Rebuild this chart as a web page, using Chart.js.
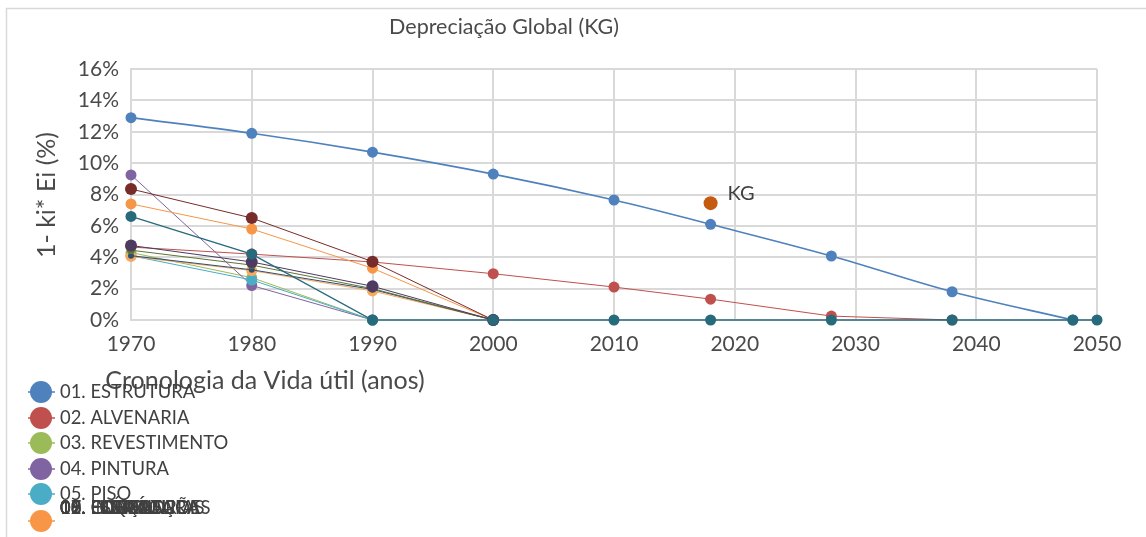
<!DOCTYPE html>
<html>
<head>
<meta charset="utf-8">
<script src="https://cdn.jsdelivr.net/npm/chart.js@4"></script>
<style>
  html, body { margin: 0; padding: 0; background: #fff; }
  canvas { display: block; }
</style>
</head>
<body>
<canvas id="c" width="1146" height="537"></canvas>
<script>
// Anos de referência e valores de 1 - ki*Ei (%) por componente
const anos = [1970, 1980, 1990, 2000, 2010, 2018, 2028, 2038, 2048, 2050];

const estrutura    = [12.9, 11.9, 10.7, 9.3, 7.65, 6.1, 4.08, 1.8, 0];
const alvenaria    = [4.65, 4.2, 3.7, 2.95, 2.1, 1.33, 0.25, 0];
const revestimento = [4.3, 2.7, 0];
const pintura      = [9.25, 2.2, 0];
const piso         = [4.1, 2.55, 0];
const esquadrias   = [7.4, 5.8, 3.3, 0];
const cobertura    = [4.05, 3.15, 1.85, 0];
const eletrica     = [4.1, 3.2, 1.95, 0];
const instalacoes  = [8.35, 6.5, 3.72, 0];
const hidraulica   = [4.45, 3.5, 2.0, 0];
const loucas       = [4.75, 3.7, 2.15, 0];
const forro        = [6.6, 4.2, 0, 0, 0, 0, 0, 0, 0, 0];

// Depreciação global
const kgAno = 2018;
const kgValor = 7.45;

const yTicks = [0, 2, 4, 6, 8, 10, 12, 14, 16];
const xTicks = [1970, 1980, 1990, 2000, 2010, 2020, 2030, 2040, 2050];

const series = [
  { nome: '01. ESTRUTURA',    valores: estrutura,    cor: '#4F81BD', w: 1.6, r: 5.5 },
  { nome: '02. ALVENARIA',    valores: alvenaria,    cor: '#C0504D', w: 1,   r: 5.5 },
  { nome: '03. REVESTIMENTO', valores: revestimento, cor: '#9BBB59', w: 1,   r: 5.5 },
  { nome: '04. PINTURA',      valores: pintura,      cor: '#8064A2', w: 1,   r: 5.5 },
  { nome: '05. PISO',         valores: piso,         cor: '#4BACC6', w: 1,   r: 5.5 },
  { nome: '06. ESQUADRIAS',   valores: esquadrias,   cor: '#F79646', w: 1,   r: 5.5 },
  { nome: '07. COBERTURA',    valores: cobertura,    cor: '#F9A85E', w: 1,   r: 5.5 },
  { nome: '08. ELÉTRICA',     valores: eletrica,     cor: '#2C4D75', w: 1,   r: 3 },
  { nome: '09. INSTALAÇÕES',  valores: instalacoes,  cor: '#772C2A', w: 1,   r: 6 },
  { nome: '10. HIDRÁULICA',   valores: hidraulica,   cor: '#5F7530', w: 1,   r: 4 },
  { nome: '11. LOUÇAS',       valores: loucas,       cor: '#4D3B62', w: 1,   r: 6 },
  { nome: '12. FORRO',        valores: forro,        cor: '#276A7C', w: 1.3, r: 5.5 }
];

const FONT = 'Lato, "Open Sans", sans-serif';
const TXT = '#4A4A4A';

const datasets = series.map((s, i) => ({
  label: s.nome,
  data: s.valores.map((v, k) => ({ x: anos[k], y: v })),
  borderColor: s.cor,
  backgroundColor: s.cor,
  borderWidth: s.w,
  pointRadius: s.r,
  pointBorderWidth: 0,
  pointBackgroundColor: s.cor,
  tension: i === 0 ? 0.35 : 0,
  clip: false,
  order: -i
}));

datasets.push({
  label: 'KG',
  data: [{ x: kgAno, y: kgValor }],
  showLine: false,
  pointRadius: 7,
  pointBorderWidth: 0,
  pointBackgroundColor: '#C55A11',
  backgroundColor: '#C55A11',
  borderColor: '#C55A11',
  clip: false,
  order: -20
});

const kgIndex = datasets.length - 1;

const decoracao = {
  id: 'decoracao',
  beforeDraw(chart) {
    const ctx = chart.ctx;
    ctx.save();
    ctx.fillStyle = '#fff';
    ctx.fillRect(0, 0, chart.width, chart.height);
    ctx.strokeStyle = '#D9D9D9';
    ctx.lineWidth = 1.5;
    ctx.strokeRect(6.5, 8.5, chart.width + 20, chart.height + 20);
    ctx.restore();
  },
  afterDraw(chart) {
    const ctx = chart.ctx;
    ctx.save();
    ctx.fillStyle = TXT;
    ctx.textBaseline = 'middle';

    // Título
    ctx.font = '21.5px ' + FONT;
    ctx.textAlign = 'center';
    ctx.fillText('Depreciação Global (KG)', 504, 27);

    // Título do eixo Y
    ctx.save();
    ctx.translate(47, 195);
    ctx.rotate(-Math.PI / 2);
    ctx.font = '25px ' + FONT;
    ctx.fillText('1- ki* Ei (%)', 0, 0);
    ctx.restore();

    // Título do eixo X
    ctx.font = '25px ' + FONT;
    ctx.fillText('Cronologia da Vida útil (anos)', 265, 381);

    // Rótulo do ponto KG
    const p = chart.getDatasetMeta(kgIndex).data[0];
    ctx.fillStyle = '#404040';
    ctx.font = '20px ' + FONT;
    ctx.textAlign = 'left';
    ctx.fillText('KG', p.x + 17, p.y - 10);

    // Legenda
    const linhas = [392, 418, 443, 469, 494];
    ctx.font = '18.4px ' + FONT;
    series.forEach((s, i) => {
      const y = i < 5 ? linhas[i] : 508;
      if (i <= 5) {
        const my = i < 5 ? y : 521;
        ctx.strokeStyle = s.cor;
        ctx.lineWidth = 1.5;
        ctx.beginPath();
        ctx.moveTo(28, my);
        ctx.lineTo(55, my);
        ctx.stroke();
        ctx.fillStyle = s.cor;
        ctx.beginPath();
        ctx.arc(41, my, 11, 0, Math.PI * 2);
        ctx.fill();
      }
      ctx.fillStyle = '#404040';
      ctx.fillText(s.nome, 60, y);
    });
    ctx.restore();
  }
};

new Chart(document.getElementById('c'), {
  type: 'line',
  data: { datasets },
  plugins: [decoracao],
  options: {
    responsive: false,
    animation: false,
    layout: { padding: { left: 0, top: 69, right: 49, bottom: 177 } },
    plugins: {
      legend: { display: false },
      title: { display: false },
      tooltip: { enabled: false }
    },
    scales: {
      x: {
        type: 'linear',
        min: xTicks[0],
        max: xTicks[xTicks.length - 1],
        afterBuildTicks(scale) { scale.ticks = xTicks.map(v => ({ value: v })); },
        afterFit(scale) { scale.height = 40; },
        grid: { color: '#D9D9D9', lineWidth: 2, drawTicks: false },
        border: { color: '#D9D9D9', width: 2 },
        ticks: {
          padding: 12,
          color: TXT,
          font: { family: FONT, size: 21 },
          callback: v => String(v)
        }
      },
      y: {
        min: yTicks[0],
        max: yTicks[yTicks.length - 1],
        afterBuildTicks(scale) { scale.ticks = yTicks.map(v => ({ value: v })); },
        afterFit(scale) { scale.width = 131; },
        grid: { color: '#D9D9D9', lineWidth: 2, drawTicks: false },
        border: { color: '#D9D9D9', width: 2 },
        ticks: {
          padding: 12,
          color: TXT,
          font: { family: FONT, size: 21 },
          callback: v => v + '%'
        }
      }
    }
  }
});
</script>
</body>
</html>
